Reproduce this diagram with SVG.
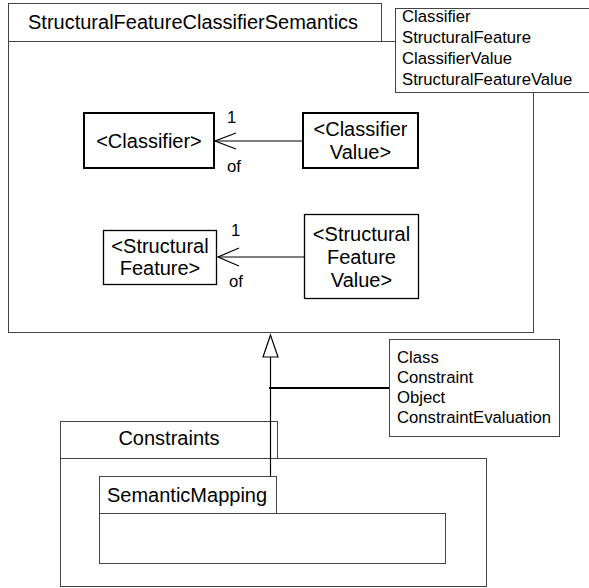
<svg xmlns="http://www.w3.org/2000/svg" width="589" height="588" viewBox="0 0 589 588">
<style>
.pkg{fill:#fff;stroke:#444;stroke-width:1}
.cls{fill:#fff;stroke:#000;stroke-width:2}
.cls2{fill:#fff;stroke:#000;stroke-width:1.3}
.note{fill:#fff;stroke:#444;stroke-width:1}
.t20{font-family:"Liberation Sans",Arial,sans-serif;font-size:20px;fill:#000}
.t17{font-family:"Liberation Sans",Arial,sans-serif;font-size:16.7px;fill:#000}
.mid{text-anchor:middle}
.ln{fill:none;stroke:#000;stroke-width:1.2}
</style>
<rect width="589" height="588" fill="#fff"/>
<g id="pkg-main">
<rect class="pkg" x="8.5" y="41.5" width="525" height="291"/>
<rect class="pkg" x="8.5" y="3.5" width="373" height="38"/>
<text class="t20" x="28" y="29">StructuralFeatureClassifierSemantics</text>
</g>
<g id="note-main">
<rect class="note" x="395.5" y="8.5" width="210" height="84"/>
<text class="t17" x="402" y="22">Classifier</text>
<text class="t17" x="402" y="43">StructuralFeature</text>
<text class="t17" x="402" y="64">ClassifierValue</text>
<text class="t17" x="402" y="85">StructuralFeatureValue</text>
</g>
<g id="classifier">
<rect class="cls" x="84" y="113" width="130" height="55"/>
<text class="t20 mid" x="149" y="148">&lt;Classifier&gt;</text>
</g>
<g id="classifier-value">
<rect class="cls" x="303" y="113" width="115" height="55"/>
<text class="t20 mid" x="360.5" y="136">&lt;Classifier</text>
<text class="t20 mid" x="360.5" y="159">Value&gt;</text>
</g>
<g id="structural-feature">
<rect class="cls2" x="103.5" y="230.5" width="113" height="54"/>
<text class="t20 mid" x="160" y="253">&lt;Structural</text>
<text class="t20 mid" x="160" y="275">Feature&gt;</text>
</g>
<g id="structural-feature-value">
<rect class="cls2" x="304.5" y="214.5" width="114" height="84"/>
<text class="t20 mid" x="361.5" y="240.5">&lt;Structural</text>
<text class="t20 mid" x="361.5" y="263.5">Feature</text>
<text class="t20 mid" x="361.5" y="286.5">Value&gt;</text>
</g>
<g id="pkg-constraints">
<rect class="pkg" x="60.5" y="458.5" width="426" height="128"/>
<rect class="pkg" x="60.5" y="421.5" width="217" height="37"/>
<text class="t20 mid" x="169" y="445">Constraints</text>
</g>
<g id="pkg-semanticmapping">
<rect class="pkg" x="99.5" y="513.5" width="346" height="50"/>
<rect class="pkg" x="99.5" y="476.5" width="177" height="37"/>
<text class="t20" x="107" y="502">SemanticMapping</text>
</g>
<g id="note-constraints">
<rect class="note" x="389.5" y="339.5" width="170" height="97"/>
<text class="t17" x="397" y="363">Class</text>
<text class="t17" x="397" y="383">Constraint</text>
<text class="t17" x="397" y="403">Object</text>
<text class="t17" x="397" y="423">ConstraintEvaluation</text>
</g>
<g id="connectors">
<line class="ln" x1="303" y1="141" x2="215" y2="141"/>
<polyline class="ln" points="236,133 215,141 236,149"/>
<text class="t17" x="227" y="123">1</text>
<text class="t17" x="227" y="172">of</text>
<line class="ln" x1="304" y1="257" x2="218" y2="257"/>
<polyline class="ln" points="239,248 218,257 239,266"/>
<text class="t17" x="231" y="236">1</text>
<text class="t17" x="229" y="287">of</text>
<line class="ln" x1="270.5" y1="476" x2="270.5" y2="357"/>
<polygon points="270.5,335 263,357 278,357" fill="#fff" stroke="#000" stroke-width="1.2"/>
<line x1="269" y1="388" x2="389" y2="388" stroke="#000" stroke-width="2"/>
</g>
</svg>
